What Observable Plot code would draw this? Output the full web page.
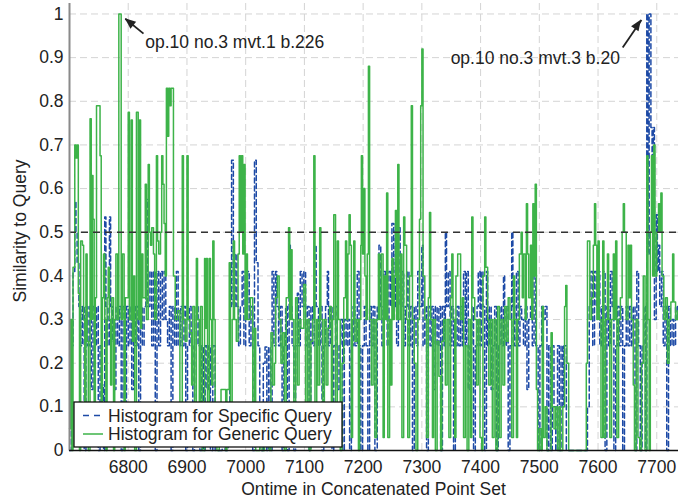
<!DOCTYPE html>
<html>
<head>
<meta charset="utf-8">
<script src="https://cdn.jsdelivr.net/npm/d3@7"></script>
<script src="https://cdn.jsdelivr.net/npm/@observablehq/plot@0.6"></script>
<style>
  html, body { margin: 0; padding: 0; background: #fff; }
  #chart { width: 678px; height: 502px; }
</style>
</head>
<body>
<div id="chart"></div>
<script>
// ---------- data ----------
const xTicks = [6800, 6900, 7000, 7100, 7200, 7300, 7400, 7500, 7600, 7700];
const yTicks = [0, 0.1, 0.2, 0.3, 0.4, 0.5, 0.6, 0.7, 0.8, 0.9, 1];
const threshold = [0.5];

// Histogram for Specific Query  [ontime, similarity]
const specificQuery = [
[6700,0],[6703,.24],[6706,.41],[6709,.57],[6711,.5],[6713,.43],[6716,.33],[6719,.24],[6722,.33],[6725,0],
[6728,.33],[6731,.24],[6734,.33],[6737,.14],[6740,.33],[6743,.24],[6746,.33],[6749,0],[6752,.24],[6755,.15],
[6758,0],[6760,.535],[6762,.33],[6765,.24],[6768,.535],[6770,.33],[6773,.25],[6776,.14],[6779,.33],[6782,.24],
[6785,.33],[6788,0],[6791,.33],[6794,.05],[6797,.33],[6800,.24],[6803,.33],[6806,.14],[6809,.33],[6812,.24],
[6815,.33],[6818,0],[6821,.33],[6824,.24],[6827,.33],[6830,.575],[6833,.33],[6837,.41],[6840,.24],[6843,.41],
[6846,0],[6849,.41],[6852,.24],[6855,.41],[6858,.3],[6861,.41],[6864,.3],[6867,.24],[6870,.33],[6873,0],
[6876,.33],[6879,.24],[6882,.41],[6885,.24],[6889,.33],[6892,.24],[6895,.33],[6898,0],[6901,.24],[6904,.33],
[6907,.24],[6910,0],[6913,.24],[6916,.33],[6919,.24],[6922,0],[6925,.24],[6928,0],[6931,.24],[6934,.14],
[6937,.24],[6940,0],[6944,.24],[6948,0],[6960,.05],[6965,0],[6970,.1],[6973,.33],[6976,.665],[6979,.33],
[6982,.45],[6985,.33],[6988,.24],[6991,.33],[6994,.41],[6997,.24],[7000,.33],[7003,.41],[7006,.24],[7009,.33],
[7012,0],[7015,.665],[7018,.43],[7021,.24],[7024,0],[7027,0],[7030,.2],[7033,.237],[7036,0],[7039,.237],
[7042,0],[7045,.41],[7048,.24],[7051,.41],[7053,.33],[7056,.24],[7059,.33],[7062,0],[7065,.24],[7068,.33],
[7071,0],[7074,.47],[7076,.33],[7079,.24],[7082,0],[7085,.24],[7088,.36],[7090,.24],[7093,.41],[7096,.33],
[7099,.41],[7102,.24],[7105,.33],[7108,0],[7111,.33],[7114,.24],[7117,.47],[7120,.33],[7124,.24],[7127,.33],
[7130,0],[7133,.24],[7136,.33],[7139,.41],[7141,.24],[7144,.33],[7147,0],[7150,.24],[7153,.33],[7156,.14],
[7159,.24],[7162,.3],[7165,0],[7168,.3],[7171,.24],[7174,.3],[7177,0],[7180,.24],[7183,.33],[7186,.24],
[7190,.41],[7193,.24],[7196,0],[7199,.24],[7202,.33],[7205,.24],[7208,0],[7211,.33],[7214,.24],[7217,.33],
[7220,0],[7224,.33],[7227,.47],[7230,.33],[7232,.24],[7235,.41],[7238,.33],[7241,.24],[7244,.41],[7247,.33],
[7249,.52],[7252,.33],[7255,.52],[7257,.24],[7260,.51],[7263,.33],[7266,.41],[7269,.24],[7272,.33],[7275,.41],
[7278,.24],[7281,.33],[7284,0],[7287,.33],[7290,.24],[7293,.41],[7296,.33],[7300,.47],[7302,.24],[7305,.33],
[7308,0],[7311,.33],[7314,.24],[7317,.33],[7320,.14],[7323,.33],[7326,.24],[7329,.33],[7332,0],[7335,.33],
[7338,.24],[7340,.5],[7342,.33],[7345,.41],[7348,.24],[7351,.33],[7354,0],[7357,.24],[7360,.33],[7363,.24],
[7366,.33],[7369,.24],[7371,.41],[7374,.24],[7376,.41],[7379,.14],[7382,.24],[7385,.33],[7388,0],[7391,.24],
[7394,.33],[7396,.41],[7399,.24],[7401,.41],[7404,.33],[7407,0],[7410,.41],[7412,.24],[7415,.33],[7418,.14],
[7421,.24],[7424,.33],[7427,0],[7430,.24],[7433,.33],[7436,.24],[7439,.4],[7441,.24],[7444,.33],[7447,0],
[7450,.24],[7453,.5],[7455,.33],[7458,.24],[7461,.41],[7464,.24],[7467,.33],[7470,.3],[7473,.24],[7476,.33],
[7479,.14],[7482,.3],[7485,.33],[7488,.24],[7491,.41],[7494,.24],[7498,0],[7501,.24],[7504,.33],[7507,.3],
[7510,.33],[7513,0],[7516,.24],[7519,0],[7522,.24],[7525,.1],[7528,0],[7531,.24],[7534,0],[7537,.24],
[7540,.1],[7542,.24],[7546,0],[7582,.1],[7585,.33],[7588,.41],[7591,.24],[7594,.41],[7597,.33],[7600,.41],
[7603,.24],[7606,.33],[7609,.41],[7612,0],[7615,.33],[7618,.24],[7621,.41],[7624,.33],[7627,0],[7630,.24],
[7633,.33],[7636,.24],[7639,.33],[7642,0],[7645,.24],[7648,.33],[7651,.24],[7654,.33],[7657,.24],[7660,.33],
[7663,0],[7666,.41],[7669,.24],[7672,0],[7675,.24],[7678,.33],[7681,0],[7683,1],[7685,.45],[7687,1],
[7690,.74],[7692,.5],[7694,.74],[7696,.3],[7699,.54],[7701,.41],[7703,.47],[7705,.33],[7708,.41],[7711,.24],
[7714,.33],[7717,0],[7720,.33],[7723,.24],[7726,.3],[7729,.24],[7732,.33],[7735,.3]
];

// Histogram for Generic Query  [ontime, similarity]
const genericQuery = [
[6700,.05],[6702,.3],[6704,0],[6706,.42],[6709,.7],[6711,.67],[6713,.7],[6715,.36],[6717,0],[6719,.48],
[6722,.47],[6724,.3],[6726,.05],[6728,.45],[6730,.25],[6732,0],[6735,.76],[6737,.3],[6739,.63],[6740,.53],
[6742,.03],[6744,.35],[6746,.79],[6749,.79],[6752,.675],[6754,.03],[6756,.35],[6758,.45],[6760,.3],[6762,0],
[6764,.35],[6766,.42],[6768,.3],[6770,.15],[6772,.35],[6775,0],[6777,.3],[6779,.45],[6782,.3],[6784,1],
[6788,.3],[6790,.45],[6793,0],[6795,.35],[6800,.775],[6802,.3],[6805,.757],[6807,.25],[6809,.4],[6811,0],
[6814,.775],[6817,.3],[6819,.757],[6821,.28],[6823,.45],[6825,.35],[6829,.61],[6831,.3],[6834,.655],[6836,.5],
[6838,.47],[6840,.51],[6843,.45],[6845,.3],[6848,.675],[6850,.48],[6852,.45],[6855,.5],[6857,.675],[6859,.61],
[6861,.52],[6863,.4],[6865,.83],[6867,.72],[6869,.83],[6871,.79],[6873,.83],[6877,.4],[6880,.3],[6884,.32],
[6888,.03],[6892,.675],[6894,.3],[6897,.25],[6900,.675],[6902,.3],[6905,.27],[6908,.15],[6910,.33],[6913,.03],
[6916,.44],[6918,.3],[6921,.03],[6923,.33],[6926,0],[6930,.44],[6931,.28],[6933,.44],[6935,.03],[6938,.44],
[6940,.3],[6942,.15],[6944,.48],[6946,.3],[6948,.03],[6951,0],[6953,0],[6955,.03],[6958,.14],[6962,.14],
[6966,0],[6968,.14],[6972,.43],[6974,.03],[6977,.3],[6979,.48],[6981,.3],[6984,.25],[6987,.45],[6989,.675],
[6991,.5],[6993,.675],[6995,.45],[6997,.655],[6999,.3],[7001,.45],[7003,.3],[7008,.35],[7012,.03],[7015,.28],
[7017,0],[7020,0],[7024,.05],[7028,0],[7032,.1],[7036,.1],[7040,0],[7043,.27],[7046,.15],[7049,.2],
[7051,.35],[7054,.4],[7057,.3],[7060,.2],[7063,.27],[7066,0],[7069,.35],[7073,.51],[7075,.3],[7077,.46],
[7079,.3],[7082,.03],[7085,.35],[7088,.15],[7091,.3],[7094,.28],[7099,.38],[7102,.03],[7105,.3],[7108,0],
[7111,.25],[7114,.3],[7116,.675],[7118,.03],[7121,.3],[7123,.15],[7126,.51],[7128,.3],[7131,.03],[7134,.3],
[7137,.15],[7140,.28],[7143,.33],[7146,.03],[7148,.3],[7150,.54],[7153,.03],[7156,.48],[7158,.3],[7161,0],
[7164,.2],[7167,.35],[7170,.48],[7172,.3],[7174,.45],[7176,.54],[7178,.47],[7180,.03],[7182,.3],[7184,.48],
[7186,.25],[7189,.3],[7192,0],[7194,.3],[7196,.47],[7197,.675],[7199,.45],[7201,.6],[7203,.4],[7205,.3],
[7207,.45],[7209,.88],[7211,.3],[7214,.15],[7217,.3],[7220,.03],[7223,.3],[7226,.45],[7228,.3],[7231,.45],
[7234,.03],[7236,.4],[7238,.3],[7240,.59],[7242,.03],[7245,.3],[7247,.15],[7249,.44],[7251,.3],[7253,.4],
[7255,.55],[7257,.3],[7259,.655],[7261,.3],[7264,.45],[7266,.03],[7269,.535],[7271,.47],[7274,.3],[7276,.03],
[7279,.4],[7282,.79],[7284,.3],[7287,.2],[7290,0],[7293,.3],[7296,.53],[7298,.79],[7300,.92],[7302,.4],
[7305,.3],[7308,.03],[7311,.35],[7313,.545],[7315,.3],[7318,.03],[7320,.3],[7323,0],[7326,.25],[7329,.17],
[7332,0],[7334,.25],[7337,.3],[7340,.15],[7343,.3],[7346,.03],[7349,.35],[7351,.45],[7353,.3],[7356,.03],
[7358,.4],[7361,.45],[7364,.45],[7366,.3],[7369,.35],[7371,.03],[7374,.24],[7377,0],[7380,.3],[7383,.03],
[7385,.535],[7387,.35],[7390,.3],[7393,.15],[7396,.3],[7399,.03],[7402,0],[7404,.4],[7407,.535],[7409,.42],
[7412,.3],[7414,.15],[7417,.3],[7420,.03],[7423,.3],[7426,0],[7429,.33],[7432,.03],[7435,.3],[7438,.15],
[7441,.33],[7444,.25],[7447,.35],[7450,.3],[7453,.03],[7456,.4],[7458,.3],[7461,.03],[7463,.3],[7466,.45],
[7469,.5],[7471,.35],[7473,.45],[7476,.3],[7478,.565],[7480,.45],[7482,.35],[7485,.47],[7487,.3],[7489,.565],
[7491,.4],[7493,.61],[7495,.14],[7497,0],[7500,.05],[7503,0],[7505,.33],[7507,.03],[7510,.1],[7513,0],
[7520,.27],[7522,.1],[7525,.05],[7528,.1],[7531,0],[7534,.1],[7536,0],[7540,.1],[7543,.33],[7545,.378],
[7547,.2],[7550,0],[7580,.2],[7582,.48],[7586,.3],[7589,.35],[7592,.47],[7594,.565],[7596,.47],[7598,.3],
[7600,.48],[7602,.3],[7605,.03],[7608,.48],[7610,.03],[7613,.3],[7616,.45],[7618,.3],[7620,.03],[7623,.3],
[7626,.45],[7628,.3],[7630,.48],[7632,.03],[7635,.3],[7638,.35],[7641,.5],[7643,.565],[7645,.5],[7648,.3],
[7651,.47],[7653,.35],[7655,.47],[7657,.3],[7660,.15],[7662,0],[7665,.3],[7668,.03],[7671,0],[7674,.2],
[7677,.4],[7680,0],[7683,.675],[7685,.3],[7687,0],[7689,.5],[7691,.675],[7693,.4],[7695,.7],[7697,.4],
[7700,.5],[7703,.565],[7705,.5],[7707,.59],[7709,.4],[7712,.3],[7715,.35],[7718,.2],[7721,.3],[7724,.34],
[7727,.45],[7729,.34],[7732,.3],[7735,.32]
];

// annotations
const annoText = ["op.10 no.3 mvt.1 b.226", "op.10 no.3 mvt.3 b.20"];
const annoTextX = [6829, 7349];
const annoTextY = [0.934, 0.898];
const arrowFromX = [6826, 7642];
const arrowFromY = [0.955, 0.923];
const arrowToX = [6795, 7674];
const arrowToY = [0.989, 0.986];

const seriesNames = ["Histogram for Specific Query", "Histogram for Generic Query"];
const seriesColors = ["#1d4aa6", "#3db349"];

// ---------- build ----------
const FONT = "'Liberation Sans', Arial, Helvetica, sans-serif";
const FS = 17.5;
const spec = specificQuery.map(([x, y]) => ({x, y}));
const gen = genericQuery.map(([x, y]) => ({x, y}));
const annos = annoText.map((t, i) => ({t, x: annoTextX[i], y: annoTextY[i],
  x1: arrowFromX[i], y1: arrowFromY[i], x2: arrowToX[i], y2: arrowToY[i]}));

const arrowHeads = (index, scales) => {
  const g = d3.create("svg:g");
  for (const a of annos) {
    const tx = scales.x(a.x2), ty = scales.y(a.y2);
    const fx = scales.x(a.x1), fy = scales.y(a.y1);
    const dx = tx - fx, dy = ty - fy, len = Math.hypot(dx, dy);
    const ux = dx / len, uy = dy / len;
    const L = 11, W = 4.5;
    const bx = tx - L * ux, by = ty - L * uy;
    g.append("path")
      .attr("d", `M${tx},${ty}L${bx - W * uy},${by + W * ux}L${bx + W * uy},${by - W * ux}Z`)
      .attr("fill", "#222");
  }
  return g.node();
};

const chart = Plot.plot({
  width: 678,
  height: 502,
  marginLeft: 69,
  marginRight: 0,
  marginTop: 3,
  marginBottom: 52,
  style: {fontFamily: FONT, fontSize: FS + "px", color: "#222", background: "#fff"},
  x: {domain: [6700, 7737], ticks: xTicks, tickFormat: d => String(d), tickSize: 0, tickPadding: 10, label: null},
  y: {domain: [0, 1.024], ticks: yTicks, tickFormat: d => d === 0 ? "0" : d === 1 ? "1" : d.toFixed(1), tickSize: 0, tickPadding: 6, label: null},
  marks: [
    Plot.ruleX(xTicks, {stroke: "#d4d4d4", strokeDasharray: "7,4", strokeWidth: 1}),
    Plot.ruleY(yTicks.filter(d => d > 0), {stroke: "#d4d4d4", strokeDasharray: "7,4", strokeWidth: 1}),
    Plot.line(spec, {x: "x", y: "y", curve: "step-after", stroke: seriesColors[0], strokeWidth: 1.5, strokeDasharray: "5,3"}),
    Plot.line(gen, {x: "x", y: "y", curve: "step-after", stroke: seriesColors[1], strokeWidth: 1.5}),
    Plot.ruleY(threshold, {stroke: "#333", strokeDasharray: "7,5", strokeWidth: 1.3}),
    Plot.ruleX([6700], {stroke: "#8a8a8a", strokeWidth: 2}),
    Plot.ruleY([0], {stroke: "#111", strokeWidth: 1.3}),
    Plot.link(annos, {x1: "x1", y1: "y1", x2: "x2", y2: "y2", stroke: "#222", strokeWidth: 1.8}),
    arrowHeads,
    Plot.text(annos, {x: "x", y: "y", text: "t", textAnchor: "start", fill: "#222", fontSize: FS})
  ]
});

const svg = d3.select(chart);
// axis titles
svg.append("text")
  .attr("x", (69 + 678) / 2).attr("y", 495)
  .attr("text-anchor", "middle").attr("fill", "#222").attr("font-size", FS).attr("font-family", FONT)
  .text("Ontime in Concatenated Point Set");
svg.append("text")
  .attr("transform", "translate(26,231) rotate(-90)")
  .attr("text-anchor", "middle").attr("fill", "#222").attr("font-size", FS).attr("font-family", FONT)
  .text("Similarity to Query");
// legend
const lg = svg.append("g");
lg.append("rect").attr("x", 74).attr("y", 402).attr("width", 268).attr("height", 45)
  .attr("fill", "#fff").attr("stroke", "#111").attr("stroke-width", 1.3);
[415.5, 434].forEach((yy, i) => {
  lg.append("line").attr("x1", 83).attr("x2", 103).attr("y1", yy).attr("y2", yy)
    .attr("stroke", seriesColors[i]).attr("stroke-width", 1.5)
    .attr("stroke-dasharray", i === 0 ? "6,5" : null);
  lg.append("text").attr("x", 108).attr("y", yy).attr("dy", "0.35em")
    .attr("text-anchor", "start").attr("fill", "#222").attr("font-size", FS).attr("font-family", FONT)
    .text(seriesNames[i]);
});

document.getElementById("chart").appendChild(chart);
</script>
</body>
</html>
